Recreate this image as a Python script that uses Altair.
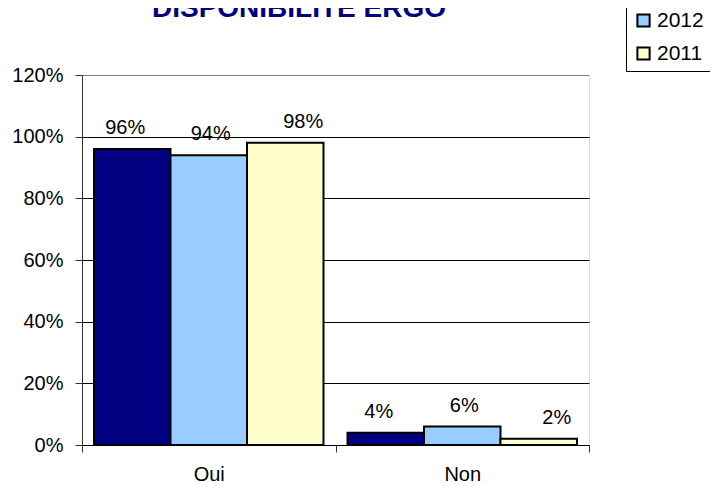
import altair as alt
import pandas as pd

title_text = "DISPONIBILITE ERGO"
categories = ["Oui", "Non"]
years = ["2013", "2012", "2011"]
values_2013 = [0.96, 0.04]
values_2012 = [0.94, 0.06]
values_2011 = [0.98, 0.02]
colors = ["#000080", "#99CCFF", "#FFFFCC"]
y_ticks = [0, 0.2, 0.4, 0.6, 0.8, 1.0, 1.2]

rows = []
for yr, vals in zip(years, [values_2013, values_2012, values_2011]):
    for c, v in zip(categories, vals):
        rows.append({"cat": c, "year": yr, "value": v})
df = pd.DataFrame(rows)

FONT = "Liberation Sans"

x_enc = alt.X("cat:N", sort=categories, title=None,
              scale=alt.Scale(paddingInner=0, paddingOuter=0),
              axis=alt.Axis(labelAngle=0, tickBand="extent", tickSize=7,
                            tickColor="#333333", labelPadding=12,
                            labelFontSize=20, labelColor="black",
                            labelFont=FONT, domainColor="black", grid=False))
xoff_enc = alt.XOffset("year:N", sort=years,
                       scale=alt.Scale(paddingOuter=0.157, paddingInner=0))
y_enc = alt.Y("value:Q", title=None,
              scale=alt.Scale(domain=[0, 1.2], nice=False),
              axis=alt.Axis(values=y_ticks, format=".0%", tickSize=7,
                            tickColor="#333333", domainColor="#333333",
                            labelPadding=12, labelFontSize=20,
                            labelColor="black", labelFont=FONT,
                            gridColor={"condition": {"test": "datum.value >= 1.2", "value": "#808080"},
                                       "value": "black"}))

bars = alt.Chart(df).mark_bar(stroke="black", strokeWidth=2).encode(
    x=x_enc,
    xOffset=xoff_enc,
    y=y_enc,
    color=alt.Color("year:N", sort=years,
                    scale=alt.Scale(domain=years, range=colors),
                    legend=alt.Legend(title=None, orient="none",
                                      legendX=544, legendY=-105,
                                      symbolType="square", symbolSize=150,
                                      symbolStrokeColor="black",
                                      symbolStrokeWidth=2,
                                      labelFontSize=21, labelFont=FONT,
                                      labelColor="black", rowPadding=11,
                                      padding=7, labelOffset=3,
                                      strokeColor="black",
                                      fillColor="white")),
)

label_dx = {"2013": -7, "2012": 2, "2011": 18}
label_layers = []
for yr in years:
    label_layers.append(
        alt.Chart(df).transform_filter(alt.datum.year == yr).mark_text(
            baseline="alphabetic", dy=-15, dx=label_dx[yr], fontSize=20,
            font=FONT, color="black"
        ).encode(
            x=alt.X("cat:N", sort=categories),
            xOffset=alt.XOffset("year:N", sort=years),
            y=alt.Y("value:Q"),
            text=alt.Text("value:Q", format=".0%"),
        )
    )

title_layer = alt.Chart(pd.DataFrame({"t": [title_text]})).mark_text(
    baseline="alphabetic", align="center", fontSize=28, fontWeight="bold",
    font=FONT, color="#000080"
).encode(text="t:N", x=alt.value(217), y=alt.value(-58))

chart = alt.layer(bars, *label_layers, title_layer).properties(
    width=507, height=370,
    autosize=alt.AutoSizeParams(type="none"),
    padding={"left": 74, "top": 67, "right": 121, "bottom": 40},
).configure_view(stroke="#808080", strokeWidth=1.5).configure(background="white")

chart.save("out.html", embed_options={"renderer": "svg", "actions": False})
